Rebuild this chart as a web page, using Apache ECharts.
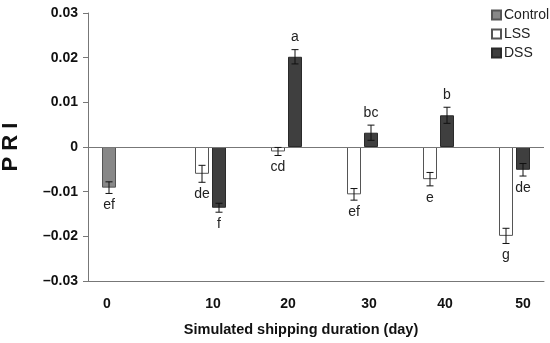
<!DOCTYPE html>
<html>
<head>
<meta charset="utf-8">
<script src="https://cdn.jsdelivr.net/npm/echarts@6/dist/echarts.min.js"></script>
<style>html,body{margin:0;padding:0;background:#fff}#c{width:550px;height:343px}</style>
</head>
<body>
<div id="c"></div>
<script>
const categories = ['0', '10', '20', '30', '40', '50'];
const controlValues = [-0.0091, null, null, null, null, null];
const controlErr = [0.0013, null, null, null, null, null];
const controlLetters = ['ef', '', '', '', '', ''];
const lssValues = [null, -0.0060, -0.0010, -0.0106, -0.0072, -0.0199];
const lssErr = [null, 0.0019, 0.0009, 0.0013, 0.0015, 0.0017];
const lssLetters = ['', 'de', 'cd', 'ef', 'e', 'g'];
const dssValues = [null, -0.0136, 0.0202, 0.0032, 0.0071, -0.0051];
const dssErr = [null, 0.0010, 0.0016, 0.0017, 0.0018, 0.0014];
const dssLetters = ['', 'f', 'a', 'bc', 'b', 'de'];
const yTicks = [-0.03, -0.02, -0.01, 0, 0.01, 0.02, 0.03];

const BAR_W = 14, BAR_GAP = 3;
const FONT = '"Liberation Sans", Arial, sans-serif';
const labelShift = [-19, 11, 10, 15, 15, 17];

function errSeries(name, values, errs, letters, slot) {
  const data = values.map((v, i) => [i, v, errs[i], letters[i]]).filter(d => d[1] !== null);
  return {
    type: 'custom', name: name + ' err', silent: true, z: 5,
    data: data,
    renderItem: function (params, api) {
      const i = api.value(0), v = api.value(1), e = api.value(2);
      const letter = data[params.dataIndex][3];
      const off = slot * (BAR_W + BAR_GAP);
      const top = api.coord([i, v + e]);
      const bot = api.coord([i, v - e]);
      const x = top[0] + off;
      const cap = 3.5;
      const st = { stroke: '#111', lineWidth: 1 };
      const ly = v >= 0 ? top[1] - 12 : bot[1] + 12;
      return {
        type: 'group',
        children: [
          { type: 'line', shape: { x1: x, y1: top[1], x2: x, y2: bot[1] }, style: st },
          { type: 'line', shape: { x1: x - cap, y1: top[1], x2: x + cap, y2: top[1] }, style: st },
          { type: 'line', shape: { x1: x - cap, y1: bot[1], x2: x + cap, y2: bot[1] }, style: st },
          { type: 'text', x: x, y: ly, style: { text: letter, fill: '#222', font: '14px ' + FONT, align: 'center', verticalAlign: 'middle' } }
        ]
      };
    }
  };
}

const chart = echarts.init(document.getElementById('c'), null, { renderer: 'canvas' });
chart.setOption({
  animation: false,
  backgroundColor: '#fff',
  grid: { left: 88, right: 6, top: 13, bottom: 62, outerBoundsMode: 'none', containLabel: false },
  legend: {
    orient: 'vertical', left: 486, top: 3, itemWidth: 9, itemHeight: 9, itemGap: 5,
    icon: 'rect',
    textStyle: { fontFamily: FONT, fontSize: 14, color: '#222', padding: [0, 0, 0, -2] },
    data: ['Control', 'LSS', 'DSS']
  },
  xAxis: {
    type: 'category', data: categories,
    axisLine: { onZero: false, lineStyle: { color: '#777', width: 1 } },
    axisTick: { show: false },
    axisLabel: {
      margin: 16, interval: 0,
      formatter: function (val, idx) {
        const s = labelShift[idx];
        return s >= 0 ? '{r' + idx + '|' + val + '}' : '{l' + idx + '|' + val + '}';
      },
      rich: (function () {
        const r = {};
        labelShift.forEach(function (s, idx) {
          const base = { fontFamily: FONT, fontWeight: 'bold', fontSize: 14, color: '#111' };
          r['r' + idx] = Object.assign({ padding: [0, 0, 0, 2 * Math.max(s, 0)] }, base);
          r['l' + idx] = Object.assign({ padding: [0, 2 * Math.max(-s, 0), 0, 0] }, base);
        });
        return r;
      })()
    },
    name: 'Simulated shipping duration (day)', nameLocation: 'middle', nameGap: 41,
    nameTextStyle: { fontFamily: FONT, fontWeight: 'bold', fontSize: 14.5, color: '#111', padding: [0, 30, 0, 0] }
  },
  yAxis: {
    type: 'value', min: -0.03, max: 0.03, interval: 0.01,
    axisLine: { show: true, lineStyle: { color: '#777' } },
    axisTick: { show: true, length: 5, lineStyle: { color: '#777' } },
    splitLine: { show: false },
    axisLabel: {
      margin: 10, fontFamily: FONT, fontWeight: 'bold', fontSize: 14, color: '#111',
      formatter: function (v) {
        if (Math.abs(v) < 1e-9) return '0';
        const s = Math.abs(v).toFixed(2);
        return v < 0 ? '\u20130' + s.slice(1) : s;
      }
    },
    name: 'P R I', nameLocation: 'middle', nameGap: 66,
    nameTextStyle: { fontFamily: FONT, fontWeight: 'bold', fontSize: 22, color: '#111' }
  },
  series: [
    {
      name: 'Control', type: 'bar', data: controlValues, barWidth: BAR_W, barGap: (BAR_GAP / BAR_W * 100) + '%',
      itemStyle: { color: '#888888', borderColor: '#555', borderWidth: 1 },
      markLine: {
        silent: true, symbol: 'none', label: { show: false },
        lineStyle: { color: '#777', type: 'solid', width: 1 },
        data: [{ yAxis: 0 }]
      }
    },
    {
      name: 'LSS', type: 'bar', data: lssValues, barWidth: BAR_W, barGap: (BAR_GAP / BAR_W * 100) + '%',
      itemStyle: { color: '#ffffff', borderColor: '#555', borderWidth: 1 }
    },
    {
      name: 'DSS', type: 'bar', data: dssValues, barWidth: BAR_W, barGap: (BAR_GAP / BAR_W * 100) + '%',
      itemStyle: { color: '#3f3f3f', borderColor: '#2a2a2a', borderWidth: 1 }
    },
    errSeries('Control', controlValues, controlErr, controlLetters, -1),
    errSeries('LSS', lssValues, lssErr, lssLetters, 0),
    errSeries('DSS', dssValues, dssErr, dssLetters, 1)
  ]
});
</script>
</body>
</html>
